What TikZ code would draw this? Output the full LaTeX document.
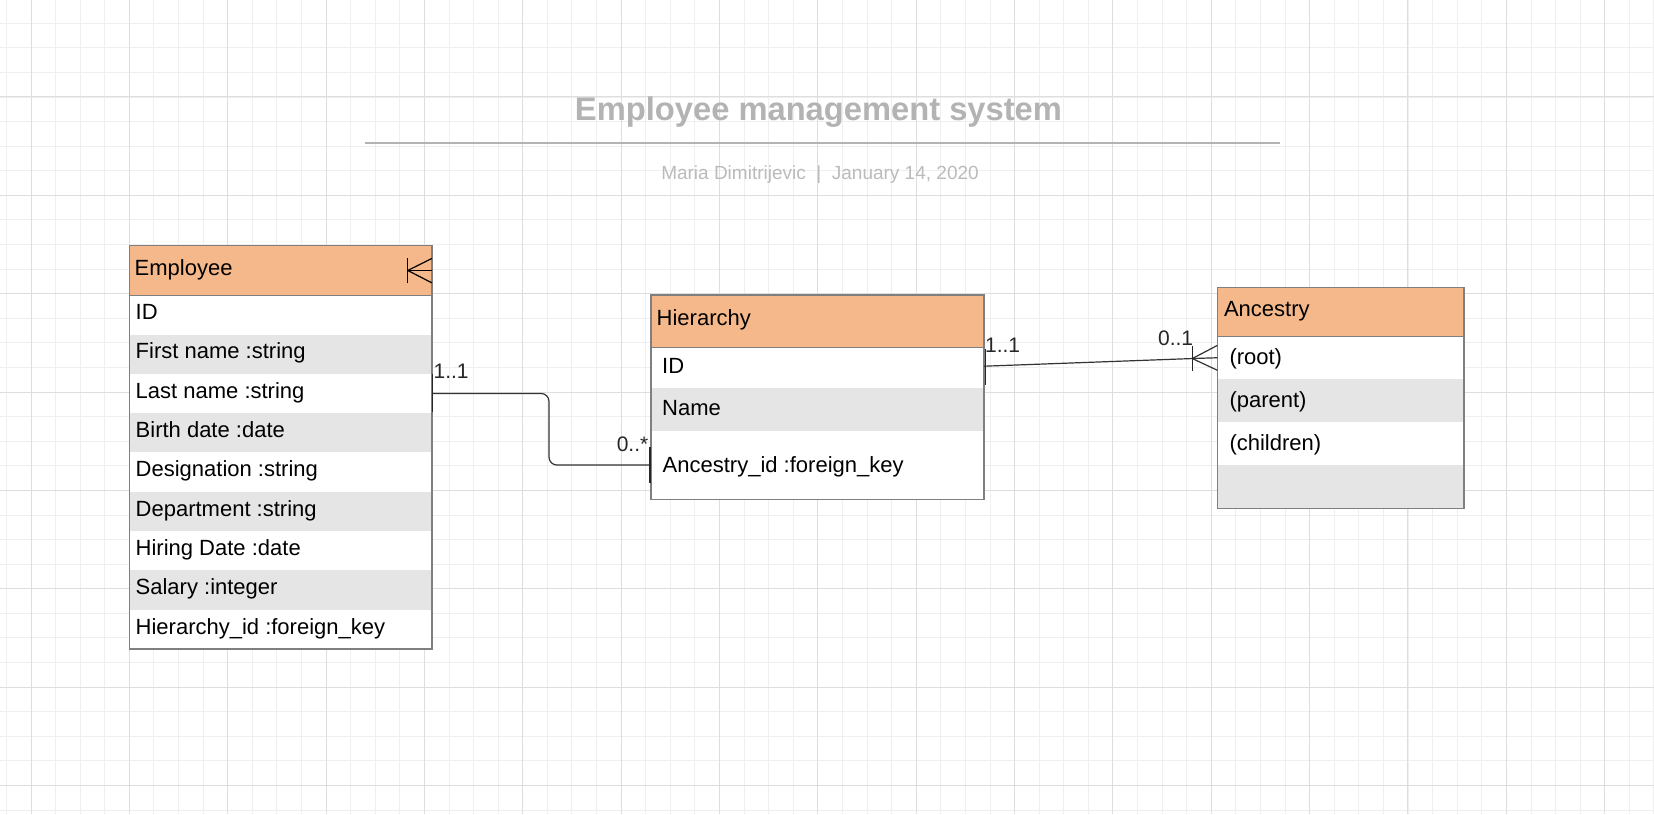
\documentclass[tikz,border=0pt]{standalone}
\usepackage{fontspec}
\setmainfont{Liberation Sans}
\usetikzlibrary{calc}
\definecolor{hdrc}{HTML}{F5B88A}
\definecolor{rowg}{HTML}{E5E5E5}
\definecolor{boxb}{HTML}{7F7F7F}
\definecolor{gridmin}{HTML}{EFEFEF}
\definecolor{gridmaj}{HTML}{DEDEDE}
\definecolor{titlec}{HTML}{B3B3B3}
\definecolor{subc}{HTML}{BBBBBB}
\definecolor{linec}{HTML}{333333}
\tikzset{
  cell/.style={anchor=north west, inner sep=0pt, draw=none},
  hdrcell/.style={cell, fill=hdrc},
  txt/.style={anchor=base west, inner sep=0pt, font=\fontsize{22}{26}\selectfont},
  boxline/.style={draw=boxb, line width=1.4pt},
  conn/.style={draw=linec, line width=1.2pt},
  barline/.style={draw=black!85, line width=1.5pt},
  mult/.style={inner sep=0pt, font=\fontsize{21}{25}\selectfont, text=black!85},
}
\begin{document}
\begin{tikzpicture}[x=1pt,y=-1pt]
\useasboundingbox (0,0) rectangle (1654,814);
\fill[white] (0,0) rectangle (1654,814);
% grid
\foreach \i in {0,...,67} {\draw[gridmin, line width=1pt] ({6.41+24.59*\i},0) -- ++(0,814);}
\foreach \j in {1,...,33} {\draw[gridmin, line width=1pt] (0,{-1.36+24.59*\j}) -- ++(1654,0);}
\foreach \i in {0,...,16} {\draw[gridmaj, line width=1pt] ({31+98.35*\i},0) -- ++(0,814);}
\foreach \j in {1,...,8} {\draw[gridmaj, line width=1pt] (0,{-1.36+98.35*\j}) -- ++(1654,0);}

% title
\node[anchor=base, inner sep=0pt, font=\fontsize{32.7}{38}\selectfont\bfseries, text=titlec] (title) at (818.5,120) {Employee management system};
\coordinate (ruleL) at (365,142.7);
\coordinate (ruleR) at (1279.5,142.7);
\draw[titlec, line width=2pt] (ruleL) -- (ruleR);
\node[anchor=base, inner sep=0pt, font=\fontsize{19}{23}\selectfont, text=subc] (subtitle) at (820,179.3) {Maria Dimitrijevic\ \ |\ \ January 14, 2020};

% ---------------- Employee
\node[hdrcell, minimum width=302, minimum height=49.5] (empH) at (129.5,245.5) {};
\node[txt] (empT0) at ($(empH.west)+(5,5.5)$) {Employee};
\foreach \t/\f [count=\i] in {ID/white, First name :string/rowg, Last name :string/white, Birth date :date/rowg, Designation :string/white, Department :string/rowg, Hiring Date :date/white, Salary :integer/rowg, Hierarchy\_id :foreign\_key/white} {
  \node[cell, fill=\f, minimum width=302, minimum height=39.3] (empR\i) at (129.5,{295+39.3*(\i-1)}) {};
  \node[txt] (empT\i) at ($(empR\i.west)+(6,4.8)$) {\t};
}
\draw[boxline] (empH.north west) rectangle (empR9.south east);
\draw[boxline] (empH.south west) -- (empH.south east);

% ---------------- Hierarchy
\node[hdrcell, minimum width=332.5, minimum height=52.3] (hieH) at (651,295) {};
\node[txt] (hieT0) at ($(hieH.west)+(5.5,4.3)$) {Hierarchy};
\node[cell, fill=white, minimum width=332.5, minimum height=40.4] (hieR1) at (651,347.3) {};
\node[cell, fill=rowg, minimum width=332.5, minimum height=43] (hieR2) at (651,387.7) {};
\node[cell, fill=white, minimum width=332.5, minimum height=68.3] (hieR3) at (651,430.7) {};
\node[txt] (hieT1) at ($(hieR1.west)+(11,5.3)$) {ID};
\node[txt] (hieT2) at ($(hieR2.west)+(11,6)$) {Name};
\node[txt] (hieT3) at ($(hieR3.west)+(11.5,7)$) {Ancestry\_id :foreign\_key};
\draw[boxline] (hieH.north west) rectangle (hieR3.south east);
\draw[boxline] (hieH.south west) -- (hieH.south east);

% ---------------- Ancestry
\node[hdrcell, minimum width=246.4, minimum height=48.7] (ancH) at (1217.3,287.3) {};
\node[txt] (ancT0) at ($(ancH.west)+(6.5,4.5)$) {Ancestry};
\foreach \t/\f [count=\i] in {(root)/white, (parent)/rowg, (children)/white, {}/rowg} {
  \node[cell, fill=\f, minimum width=246.4, minimum height=43.08] (ancR\i) at (1217.3,{336+43.08*(\i-1)}) {};
  \node[txt] (ancT\i) at ($(ancR\i.west)+(12,6.7)$) {\t};
}
\draw[boxline] (ancH.north west) rectangle (ancR4.south east);
\draw[boxline] (ancH.south west) -- (ancH.south east);

% ---------------- connector Employee -- Hierarchy
\coordinate (c1m) at (549,0);
\draw[conn, rounded corners=8pt] (empR3.east) -- (c1m |- empR3.east) -- (c1m |- hieR3.west) -- (hieR3.west);
\draw[barline] ($(empR3.east)+(0.5,-19)$) -- ($(empR3.east)+(0.5,19)$);
\draw[barline] ($(hieR3.west)+(-1,-18)$) -- ($(hieR3.west)+(-1,18)$);
\node[mult, anchor=base west] (m1) at ($(empR3.east)+(1.5,-14.5)$) {1..1};
\node[mult, anchor=base east] (m2) at ($(hieR3.west)+(-2.5,-13.8)$) {0..*};

% ---------------- connector Hierarchy -- Ancestry
\coordinate (c2e) at ($(ancR1.west)+(-25,0.8)$);
\draw[conn] ($(hieR1.east)+(0,-1.5)$) -- (c2e);
\draw[conn] (c2e) -- ($(ancR1.west)+(0,-12.3)$);
\draw[conn] (c2e) -- (ancR1.west);
\draw[conn] (c2e) -- ($(ancR1.west)+(0,12.5)$);
\draw[barline] ($(c2e)+(0,-13)$) -- ($(c2e)+(0,12)$);
\draw[barline] ($(hieR1.east)+(1.5,-19)$) -- ($(hieR1.east)+(1.5,17)$);
\node[mult, anchor=base west] (m3) at ($(hieR1.east)+(1,-15.2)$) {1..1};
\node[mult, anchor=base east] (m4) at ($(c2e)+(1,-13.3)$) {0..1};

% ---------------- dangling crow's foot on Employee header
\coordinate (cfE) at ($(empH.east)+(-24.2,0)$);
\draw[conn, draw=black] (cfE) -- ($(empH.east)+(0,-12)$);
\draw[conn, draw=black] (cfE) -- (empH.east);
\draw[conn, draw=black] (cfE) -- ($(empH.east)+(0,12.4)$);
\draw[barline, draw=black] ($(cfE)+(0,-12.2)$) -- ($(cfE)+(0,12.2)$);
\end{tikzpicture}
\end{document}
